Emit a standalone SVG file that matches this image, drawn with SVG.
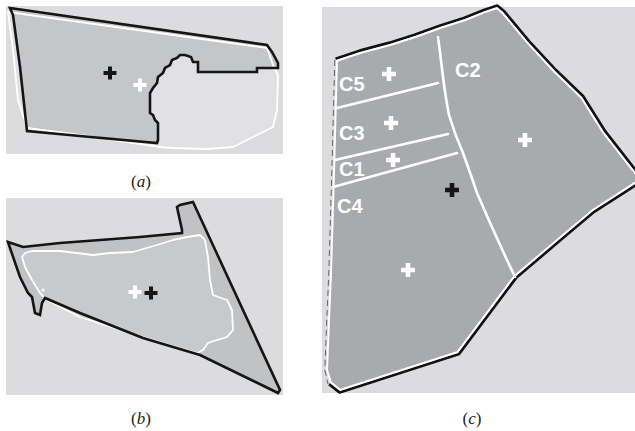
<svg xmlns="http://www.w3.org/2000/svg" width="635" height="431" viewBox="0 0 635 431">
<style>
.bg{fill:#dcdcde}
.blk{fill:none;stroke:#151515;stroke-width:2.6;stroke-linejoin:miter}
.wht{fill:none;stroke:#ffffff;stroke-width:1.8;stroke-linejoin:round}
.div{fill:none;stroke:#ffffff;stroke-width:2.6;stroke-linecap:round}
.lab{font-family:"Liberation Sans",Arial,sans-serif;font-weight:bold;font-size:20px;fill:#ffffff}
.cap{font-family:"Liberation Serif","Times New Roman",serif;font-size:17px;fill:#222}
.xw{fill:#ffffff}
.xb{fill:#151515}
</style>
<defs>
<path id="xs" d="M-6.5,-2h13v4h-13z M-2,-6.5h4v13h-4z"/>
<path id="xl" d="M-7,-2.3h14v4.6h-14z M-2.3,-7h4.6v14h-4.6z"/>
<clipPath id="cclip"><path d="M336,60 L360,52 L390,44 L415,36 L440,27 L465,19 L485,11 L497,7 L503,12 L528,42 L555,71 L582,97 L604,132 L622,155 L640,178 L638,182 L593,211 L555,243 L515,277 L458,353 L340,391 L330,383 L326,370 L328,320 L330,273 L333,173 Z"/></clipPath>
</defs>
<rect width="635" height="431" fill="#ffffff"/>

<g id="panel-a">
<rect class="bg" x="6" y="6" width="277" height="148"/>
<path id="a-white-region" d="M8,12 L267,48 L273,65 L278,75 L277,110 L273,127 L253,137 L233,147 L207,149 L173,148 L160,147 L80,135 L27,128 L18,100 L13,50 Z" fill="#e1e1e3"/>
<path id="a-black-region" d="M10,8 L267,45 L272,52 L278,63 L278,68 L257,68 L257,72 L198,72 L198,62 L193,62 L191,57 L185,55 L180,55 L177,58 L172,60 L170,65 L165,68 L163,73 L158,77 L157,83 L153,88 L150,93 L150,113 L153,115 L155,120 L158,123 L158,140 L157,143 L80,136 L27,131 L20,67 L13,15 Z" fill="#c5c6c8"/>
<path class="wht" d="M8,12 L267,48 L273,65 L278,75 L277,110 L273,127 L253,137 L233,147 L207,149 L173,148 L160,147 L80,135 L27,128 L18,100 L13,50 Z"/>
<path class="blk" d="M10,8 L267,45 L272,52 L278,63 L278,68 L257,68 L257,72 L198,72 L198,62 L193,62 L191,57 L185,55 L180,55 L177,58 L172,60 L170,65 L165,68 L163,73 L158,77 L157,83 L153,88 L150,93 L150,113 L153,115 L155,120 L158,123 L158,140 L157,143 L80,136 L27,131 L20,67 L13,15 Z"/>
<use href="#xs" x="110" y="73" class="xb"/>
<use href="#xs" x="140" y="85" class="xw"/>
<text class="cap" x="141" y="187" text-anchor="middle">(<tspan font-style="italic">a</tspan>)</text>
</g>

<g id="panel-b">
<rect class="bg" x="6" y="198" width="277" height="197"/>
<path id="b-black-region" d="M8,242 L23,247 L60,243 L100,240 L140,237 L182,233 L182,230 L177,207 L180,205 L193,202 L280,390 L278,393 L200,355 L143,338 L80,313 L45,298 L42,303 L40,315 L35,313 L32,297 L28,293 L20,277 L10,248 Z" fill="#c1c2c4"/>
<path id="b-white-region" d="M22,257 L25,253 L32,251 L60,251 L93,255 L110,253 L133,252 L157,245 L173,240 L187,237 L200,235 L205,240 L208,257 L210,280 L213,295 L227,300 L232,310 L233,330 L227,337 L217,340 L208,343 L203,350 L197,353 L143,337 L80,317 L47,300 L40,293 L32,280 L25,267 Z" fill="#c8c9cb"/>
<path class="wht" d="M22,257 L25,253 L32,251 L60,251 L93,255 L110,253 L133,252 L157,245 L173,240 L187,237 L200,235 L205,240 L208,257 L210,280 L213,295 L227,300 L232,310 L233,330 L227,337 L217,340 L208,343 L203,350 L197,353 L143,337 L80,317 L47,300 L40,293 L32,280 L25,267 Z"/>
<circle cx="43" cy="290" r="1.6" fill="#ffffff"/>
<path class="blk" d="M8,242 L23,247 L60,243 L100,240 L140,237 L182,233 L182,230 L177,207 L180,205 L193,202 L280,390 L278,393 L200,355 L143,338 L80,313 L45,298 L42,303 L40,315 L35,313 L32,297 L28,293 L20,277 L10,248 Z"/>
<use href="#xs" x="135" y="292" class="xw"/>
<use href="#xs" x="151" y="293" class="xb"/>
<text class="cap" x="141" y="424" text-anchor="middle">(<tspan font-style="italic">b</tspan>)</text>
</g>

<g id="panel-c">
<rect class="bg" x="322" y="7" width="313" height="386"/>
<path d="M330,383 L340,391 L458,353 L515,277 L555,243 L593,211 L638,182 M640,178 L622,155 L604,132 L582,97 L555,71 L528,42 L503,12 L497,7 L485,11 L465,19 L440,27 L415,36 L390,44 L360,52 L336,60" fill="none" stroke="#111" stroke-width="5.5" stroke-linejoin="round"/>
<path d="M334.8,60 L331.8,173 L328.8,273 L326.8,320 L324.8,370 L328,384" fill="none" stroke="#555" stroke-width="0.9" stroke-dasharray="6 4"/>
<path d="M336,60 L360,52 L390,44 L415,36 L440,27 L465,19 L485,11 L497,7 L503,12 L528,42 L555,71 L582,97 L604,132 L622,155 L640,178 L638,182 L593,211 L555,243 L515,277 L458,353 L340,391 L330,383 L326,370 L328,320 L330,273 L333,173 Z" fill="#a8aaad"/>
<path d="M336,60 L360,52 L390,44 L415,36 L440,27 L465,19 L485,11 L497,7 L503,12 L528,42 L555,71 L582,97 L604,132 L622,155 L640,178 L638,182 L593,211 L555,243 L515,277 L458,353 L340,391 L330,383 L326,370 L328,320 L330,273 L333,173 Z" fill="none" stroke="#ffffff" stroke-width="4" clip-path="url(#cclip)"/>
<g id="c-dividers">
<path class="div" d="M438,37 Q441,60 443,77 Q446,100 449,115 Q455,135 463,153 Q471,175 477,193 Q495,235 515,277"/>
<path class="div" d="M337,108 L438,83"/>
<path class="div" d="M335,160 L448,134"/>
<path class="div" d="M333,187 L457,153"/>
</g>
<text class="lab" x="339" y="91">C5</text>
<text class="lab" x="455" y="77">C2</text>
<text class="lab" x="339" y="140">C3</text>
<text class="lab" x="339" y="176">C1</text>
<text class="lab" x="337" y="213">C4</text>
<use href="#xl" x="389" y="74" class="xw"/>
<use href="#xl" x="391" y="123" class="xw"/>
<use href="#xl" x="393" y="160" class="xw"/>
<use href="#xl" x="525" y="140" class="xw"/>
<use href="#xl" x="452" y="190" class="xb"/>
<use href="#xl" x="408" y="270" class="xw"/>
<text class="cap" x="472" y="424" text-anchor="middle">(<tspan font-style="italic">c</tspan>)</text>
</g>
</svg>
